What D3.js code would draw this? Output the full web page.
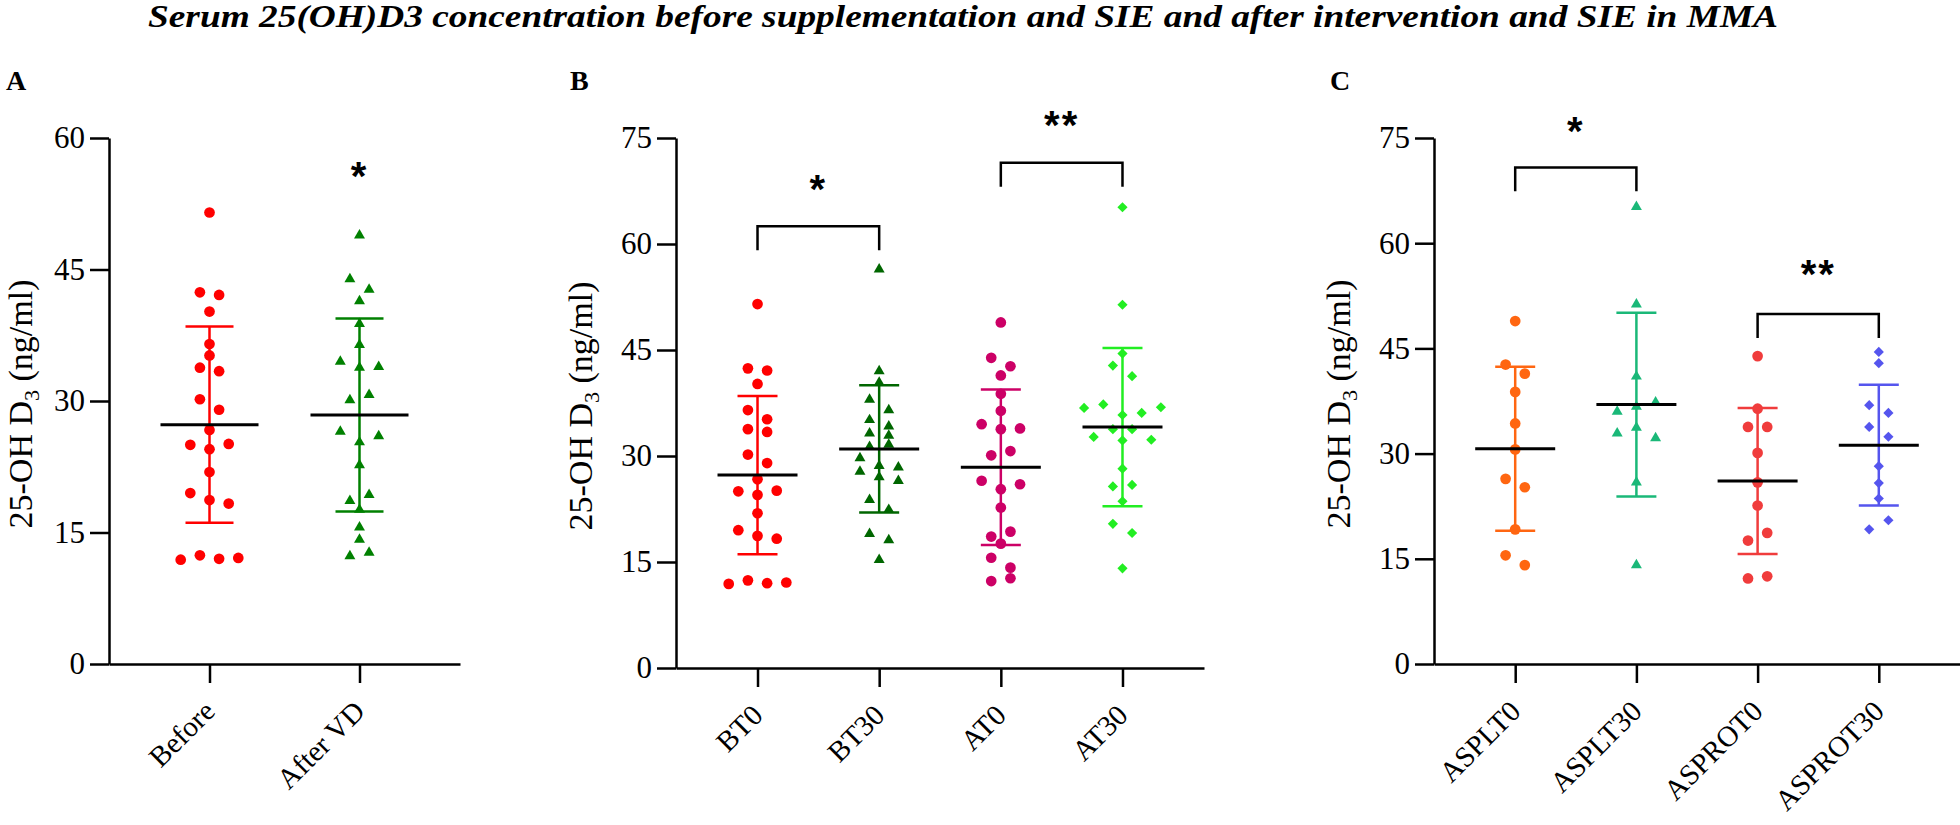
<!DOCTYPE html>
<html>
<head>
<meta charset="utf-8">
<script src="https://cdn.jsdelivr.net/npm/d3@7"></script>
<style>
  body { margin: 0; background: #fff; }
  text { font-family: "Liberation Serif", "Times New Roman", Times, serif; }
</style>
</head>
<body>
<svg id="chart" width="1960" height="825"></svg>
<script>
// categories
const catsA = ["Before", "After VD"];
const catsB = ["BT0", "BT30", "AT0", "AT30"];
const catsC = ["ASPLT0", "ASPLT30", "ASPROT0", "ASPROT30"];

// values (ng/ml), listed top to bottom, left to right
const before = [51.5, 42.4, 42.1, 40.2, 36.5, 35.2, 33.8, 33.4, 30.2, 29.0, 26.7,
  25.0, 24.5, 25.1, 21.9, 19.5, 18.7, 18.3, 11.9, 12.4, 12.0, 12.1];
const afterVD = [48.9, 43.9, 42.7, 41.4, 38.8, 36.4, 34.5, 33.8, 33.9, 30.1, 30.7,
  26.5, 25.3, 26.0, 22.7, 18.6, 19.3, 17.6, 15.6, 14.2, 12.3, 12.7];
const bt30 = [56.4, 42.0, 40.4, 38.0, 36.5, 35.1, 34.2, 33.2, 32.9, 31.3, 31.6,
  29.7, 28.6, 28.4, 27.8, 27.0, 26.5, 23.8, 22.4, 19.0, 18.1, 15.3];
const at30 = [65.2, 51.4, 44.5, 42.8, 41.3, 36.8, 37.3, 35.8, 36.1, 36.9, 32.7,
  33.8, 32.2, 33.8, 32.3, 28.2, 25.7, 25.9, 23.6, 20.4, 19.1, 14.1];
const asplt0 = [48.9, 42.7, 41.4, 38.8, 34.3, 30.6, 26.4, 25.2, 19.2, 15.5, 14.1];
const asplt30 = [65.2, 51.3, 41.0, 36.0, 36.7, 37.3, 32.9, 33.7, 32.2, 25.9, 14.1];
const asprot0 = [43.9, 36.4, 33.8, 33.8, 30.1, 25.9, 22.6, 17.6, 18.7, 12.2, 12.5];
const asprot30 = [44.5, 42.9, 36.9, 35.8, 33.8, 32.4, 28.2, 25.8, 23.6, 19.2, 20.5];

// mean and SD
const meanA = [27.3, 28.4], sdA = [11.2, 11.0];
const meanB = [27.3, 31.0, 28.4, 34.1], sdB = [11.2, 9.0, 11.0, 11.2];
const meanC = [30.7, 37.0, 26.1, 31.2], sdC = [11.7, 13.1, 10.4, 8.6];

const ticksA = [0, 15, 30, 45, 60];
const ticksBC = [0, 15, 30, 45, 60, 75];

const title = "Serum 25(OH)D3 concentration before supplementation and SIE and after intervention and SIE in MMA";

const svg = d3.select("#chart");

svg.append("text")
  .attr("x", 963).attr("y", 27)
  .attr("text-anchor", "middle")
  .attr("font-size", 31)
  .attr("font-weight", "bold")
  .attr("font-style", "italic")
  .attr("textLength", 1630)
  .attr("lengthAdjust", "spacingAndGlyphs")
  .text(title);

const panels = [
  {letter: "A", letterX: 6, x0: 109, x1: 460, y0: 664, y1: 138, max: 60, ticks: ticksA,
   cats: catsA, groups: [before, afterVD], means: meanA, sds: sdA,
   colors: ["#ff0000", "#008000"], shapes: ["circle", "triangle"],
   meanHalf: 49, capHalf: 24, labelX: 32,
   brackets: [], stars: [{at: [1, 1], v: 56.6, t: "*"}]},
  {letter: "B", letterX: 570, x0: 676, x1: 1204, y0: 668, y1: 138, max: 75, ticks: ticksBC,
   cats: catsB, groups: [before, bt30, afterVD, at30], means: meanB, sds: sdB,
   colors: ["#ff0000", "#006600", "#cc0066", "#22ee22"], shapes: ["circle", "triangle", "circle", "diamond"],
   meanHalf: 40, capHalf: 20, labelX: 592,
   brackets: [{from: 0, to: 1, top: 62.5, leg: 59.1}, {from: 2, to: 3, top: 71.5, leg: 68.1}],
   stars: [{at: [0, 1], v: 68.9, t: "*"}, {at: [2, 3], v: 78.0, t: "**"}]},
  {letter: "C", letterX: 1330, x0: 1434, x1: 1960, y0: 664, y1: 138, max: 75, ticks: ticksBC,
   cats: catsC, groups: [asplt0, asplt30, asprot0, asprot30], means: meanC, sds: sdC,
   colors: ["#ff6611", "#1ab878", "#f03c3c", "#5555ee"], shapes: ["circle", "triangle", "circle", "diamond"],
   meanHalf: 40, capHalf: 20, labelX: 1350,
   brackets: [{from: 0, to: 1, top: 70.8, leg: 67.4}, {from: 2, to: 3, top: 49.9, leg: 46.5}],
   stars: [{at: [0, 1], v: 77.1, t: "*"}, {at: [2, 3], v: 56.7, t: "**"}]}
];

const symbolFor = {
  circle: d3.symbol(d3.symbolCircle, 90)(),
  triangle: d3.symbol(d3.symbolTriangle, 52)(),
  diamond: d3.symbol(d3.symbolSquare, 52)()
};

// simple column scatter: bin close values into rows, centre each row
function swarm(vals, y, unit, thr) {
  const order = d3.range(vals.length).sort((a, b) => vals[b] - vals[a]);
  const off = new Array(vals.length).fill(0);
  let bin = [];
  const flush = () => {
    bin.sort((a, b) => a - b);
    bin.forEach((k, i) => off[k] = (2 * i - (bin.length - 1)) * unit);
    bin = [];
  };
  order.forEach(k => {
    if (bin.length && y(vals[k]) - y(vals[bin[0]]) > thr) flush();
    bin.push(k);
  });
  flush();
  return off;
}

panels.forEach(p => {
  const g = svg.append("g");

  const x = d3.scalePoint().domain(p.cats).range([p.x0, p.x1]).padding(0.67);
  const y = d3.scaleLinear().domain([0, p.max]).range([p.y0, p.y1]);

  // panel letter
  g.append("text")
    .attr("x", p.letterX).attr("y", 90)
    .attr("font-size", 28).attr("font-weight", "bold")
    .text(p.letter);

  // y axis
  const ya = g.append("g")
    .attr("transform", `translate(${p.x0},0)`)
    .call(d3.axisLeft(y).tickValues(p.ticks).tickSize(19).tickSizeOuter(0).tickPadding(5));
  ya.select(".domain").attr("stroke-width", 2.5);
  ya.selectAll(".tick line").attr("stroke-width", 2.5);
  ya.selectAll(".tick text")
    .attr("font-family", null).attr("font-size", 31).attr("fill", "#000");

  // x axis
  const xa = g.append("g")
    .attr("transform", `translate(0,${p.y0})`)
    .call(d3.axisBottom(x).tickSize(19).tickSizeOuter(0));
  xa.select(".domain").attr("stroke-width", 2.5);
  xa.selectAll(".tick line").attr("stroke-width", 2.5);
  xa.selectAll(".tick text").remove();

  g.selectAll(".cat")
    .data(p.cats)
    .join("text")
    .attr("class", "cat")
    .attr("transform", d => `translate(${x(d) + 7},${p.y0 + 49}) rotate(-45)`)
    .attr("text-anchor", "end")
    .attr("font-size", 29)
    .text(d => d);

  // y axis title with subscript
  const yl = g.append("text")
    .attr("transform", `translate(${p.labelX},${(p.y0 + p.y1) / 2 + 3}) rotate(-90)`)
    .attr("text-anchor", "middle")
    .attr("font-size", 34);
  yl.append("tspan").text("25-OH D");
  yl.append("tspan").attr("font-size", 22).attr("dy", 7).text("3");
  yl.append("tspan").attr("dy", -7).text(" (ng/ml)");

  // groups
  p.cats.forEach((c, i) => {
    const vals = p.groups[i];
    const cx = x(c);
    const col = p.colors[i];
    const off = swarm(vals, y, 9.6, 11);
    const m = p.means[i], s = p.sds[i];

    const eb = g.append("g").attr("stroke", col).attr("stroke-width", 2.5).attr("fill", "none");
    eb.append("line").attr("x1", cx).attr("x2", cx).attr("y1", y(m - s)).attr("y2", y(m + s));
    eb.selectAll(".cap").data([m - s, m + s]).join("line").attr("class", "cap")
      .attr("x1", cx - p.capHalf).attr("x2", cx + p.capHalf)
      .attr("y1", d => y(d)).attr("y2", d => y(d));

    g.append("g").selectAll("path")
      .data(vals)
      .join("path")
      .attr("d", symbolFor[p.shapes[i]])
      .attr("fill", col)
      .attr("transform", (d, k) => `translate(${cx + off[k]},${y(d)})` + (p.shapes[i] === "diamond" ? " rotate(45)" : ""));

    g.append("line")
      .attr("x1", cx - p.meanHalf).attr("x2", cx + p.meanHalf)
      .attr("y1", y(m)).attr("y2", y(m))
      .attr("stroke", "#000").attr("stroke-width", 3);
  });

  // significance brackets
  p.brackets.forEach(b => {
    const xa0 = x(p.cats[b.from]), xb0 = x(p.cats[b.to]);
    g.append("path")
      .attr("d", `M${xa0},${y(b.leg)}V${y(b.top)}H${xb0}V${y(b.leg)}`)
      .attr("fill", "none").attr("stroke", "#000").attr("stroke-width", 2.5);
  });

  p.stars.forEach(s => {
    const sx = (x(p.cats[s.at[0]]) + x(p.cats[s.at[1]])) / 2;
    g.append("text")
      .attr("x", sx).attr("y", y(s.v) + 22)
      .attr("text-anchor", "middle")
      .style("font-family", "'Liberation Sans', Arial, sans-serif")
      .attr("font-weight", "bold")
      .attr("font-size", 40)
      .attr("letter-spacing", 2)
      .text(s.t);
  });
});
</script>
</body>
</html>
